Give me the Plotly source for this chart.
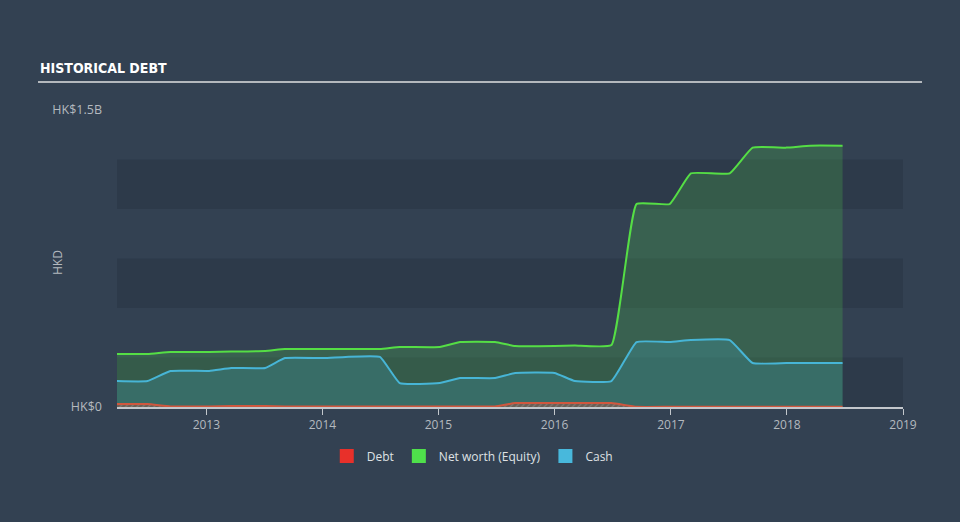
import plotly.graph_objects as go

dates = ["2012-03-26", "2012-06-30", "2012-09-10", "2013-01-10", "2013-03-20", "2013-07-05",
         "2013-09-05", "2014-01-05", "2014-03-15", "2014-07-01", "2014-09-01", "2015-01-05",
         "2015-03-10", "2015-06-28", "2015-08-30", "2016-01-01", "2016-03-05", "2016-06-28",
         "2016-09-15", "2016-12-28", "2017-03-05", "2017-07-05", "2017-09-15", "2017-12-30",
         "2018-03-15", "2018-06-25"]

equity = [0.268, 0.268, 0.278, 0.278, 0.280, 0.283, 0.293, 0.293, 0.293, 0.293, 0.303, 0.303,
          0.328, 0.328, 0.308, 0.308, 0.310, 0.313, 1.025, 1.025, 1.180, 1.180, 1.310, 1.310,
          1.320, 1.320]

cash = [0.131, 0.131, 0.182, 0.182, 0.197, 0.197, 0.247, 0.247, 0.253, 0.253, 0.121, 0.121,
        0.146, 0.146, 0.172, 0.172, 0.131, 0.131, 0.328, 0.328, 0.338, 0.338, 0.222, 0.222,
        0.222, 0.222]

debt = [0.015, 0.015, 0.003, 0.003, 0.005, 0.005, 0.003, 0.003, 0.002, 0.002, 0.002, 0.002,
        0.003, 0.003, 0.020, 0.020, 0.020, 0.020, 0.001, 0.001, 0.001, 0.001, 0.001, 0.001,
        0.001, 0.001]

y_tickvals = [0, 1.5]
y_ticktext = ["HK$0", "HK$1.5B"]
bands = [(0, 0.25), (0.5, 0.75), (1.0, 1.25)]

BG = "#334152"
BAND = "#2d3a4a"
GREEN = "#55de45"
BLUE = "#47b5d6"
TEXT = "#b4b9bf"
SMOOTH = 0.35

fig = go.Figure()

fig.add_trace(go.Scatter(x=dates, y=equity, mode="lines", fill="tozeroy",
                         line=dict(color=GREEN, width=2, shape="spline", smoothing=SMOOTH),
                         fillcolor="rgba(86,224,76,0.2)", showlegend=False, hoverinfo="skip"))
fig.add_trace(go.Scatter(x=dates, y=cash, mode="lines", fill="tozeroy",
                         line=dict(color=BLUE, width=2, shape="spline", smoothing=SMOOTH),
                         fillcolor="rgba(72,187,219,0.2)", showlegend=False, hoverinfo="skip"))
fig.add_trace(go.Scatter(x=dates, y=debt, mode="lines", fill="tozeroy",
                         line=dict(color="#d0573e", width=2, shape="spline", smoothing=SMOOTH),
                         fillcolor="rgba(224,64,47,0.3)",
                         fillpattern=dict(shape="/", fgcolor="rgba(200,200,200,0.5)", size=4, solidity=0.3),
                         showlegend=False, hoverinfo="skip"))

for name, col in [("Debt", "#e8302a"), ("Net worth (Equity)", "#4fe04b"), ("Cash", "#48b8dc")]:
    fig.add_trace(go.Scatter(x=[None], y=[None], mode="markers", name=name,
                             marker=dict(symbol="square", size=14, color=col)))

shapes = []
for y0, y1 in bands:
    shapes.append(dict(type="rect", xref="paper", yref="y", x0=0, x1=1, y0=y0, y1=y1,
                       fillcolor=BAND, line=dict(width=0), layer="below"))
# title underline
shapes.append(dict(type="line", xref="paper", yref="paper", x0=-0.1005, x1=1.0242,
                   y0=1.0943, y1=1.0943, line=dict(color="#b4b8bd", width=2)))

fig.update_layout(
    width=960, height=522,
    margin=dict(l=117, r=57, t=110, b=115),
    paper_bgcolor=BG, plot_bgcolor=BG,
    font=dict(family="Open Sans", size=12, color=TEXT),
    shapes=shapes,
    showlegend=True,
    legend=dict(orientation="h", x=0.452, xanchor="center", y=-0.165, yanchor="middle",
                font=dict(size=12, color="#dfe2e5"), itemwidth=30, bgcolor="rgba(0,0,0,0)"),
    annotations=[
        dict(text="<b>HISTORICAL DEBT</b>", xref="paper", yref="paper", x=-0.1005, y=1.1414,
             xanchor="left", yanchor="middle", showarrow=False,
             font=dict(family="DejaVu Sans Condensed", size=14, color="#ffffff")),
        dict(text="HKD", xref="paper", yref="paper", x=-0.075, y=0.485, textangle=-90,
             xanchor="center", yanchor="middle", showarrow=False,
             font=dict(size=12, color=TEXT)),
    ],
)

fig.update_xaxes(type="date", range=["2012-03-26", "2019-01-01"],
                 tick0="2013-01-01", dtick="M12", tickformat="%Y",
                 showgrid=False, zeroline=False, showline=True, linecolor="#c3c7cc", linewidth=1.5,
                 ticks="outside", ticklen=6, tickcolor="#c3c7cc",
                 tickfont=dict(size=12, color=TEXT))
fig.update_yaxes(range=[0, 1.5], tickvals=y_tickvals, ticktext=y_ticktext,
                 showgrid=False, zeroline=False, showline=False, ticks="", ticklen=0,
                 ticklabelstandoff=14,
                 tickfont=dict(size=12.5, color=TEXT))

fig.write_html("out.html")
